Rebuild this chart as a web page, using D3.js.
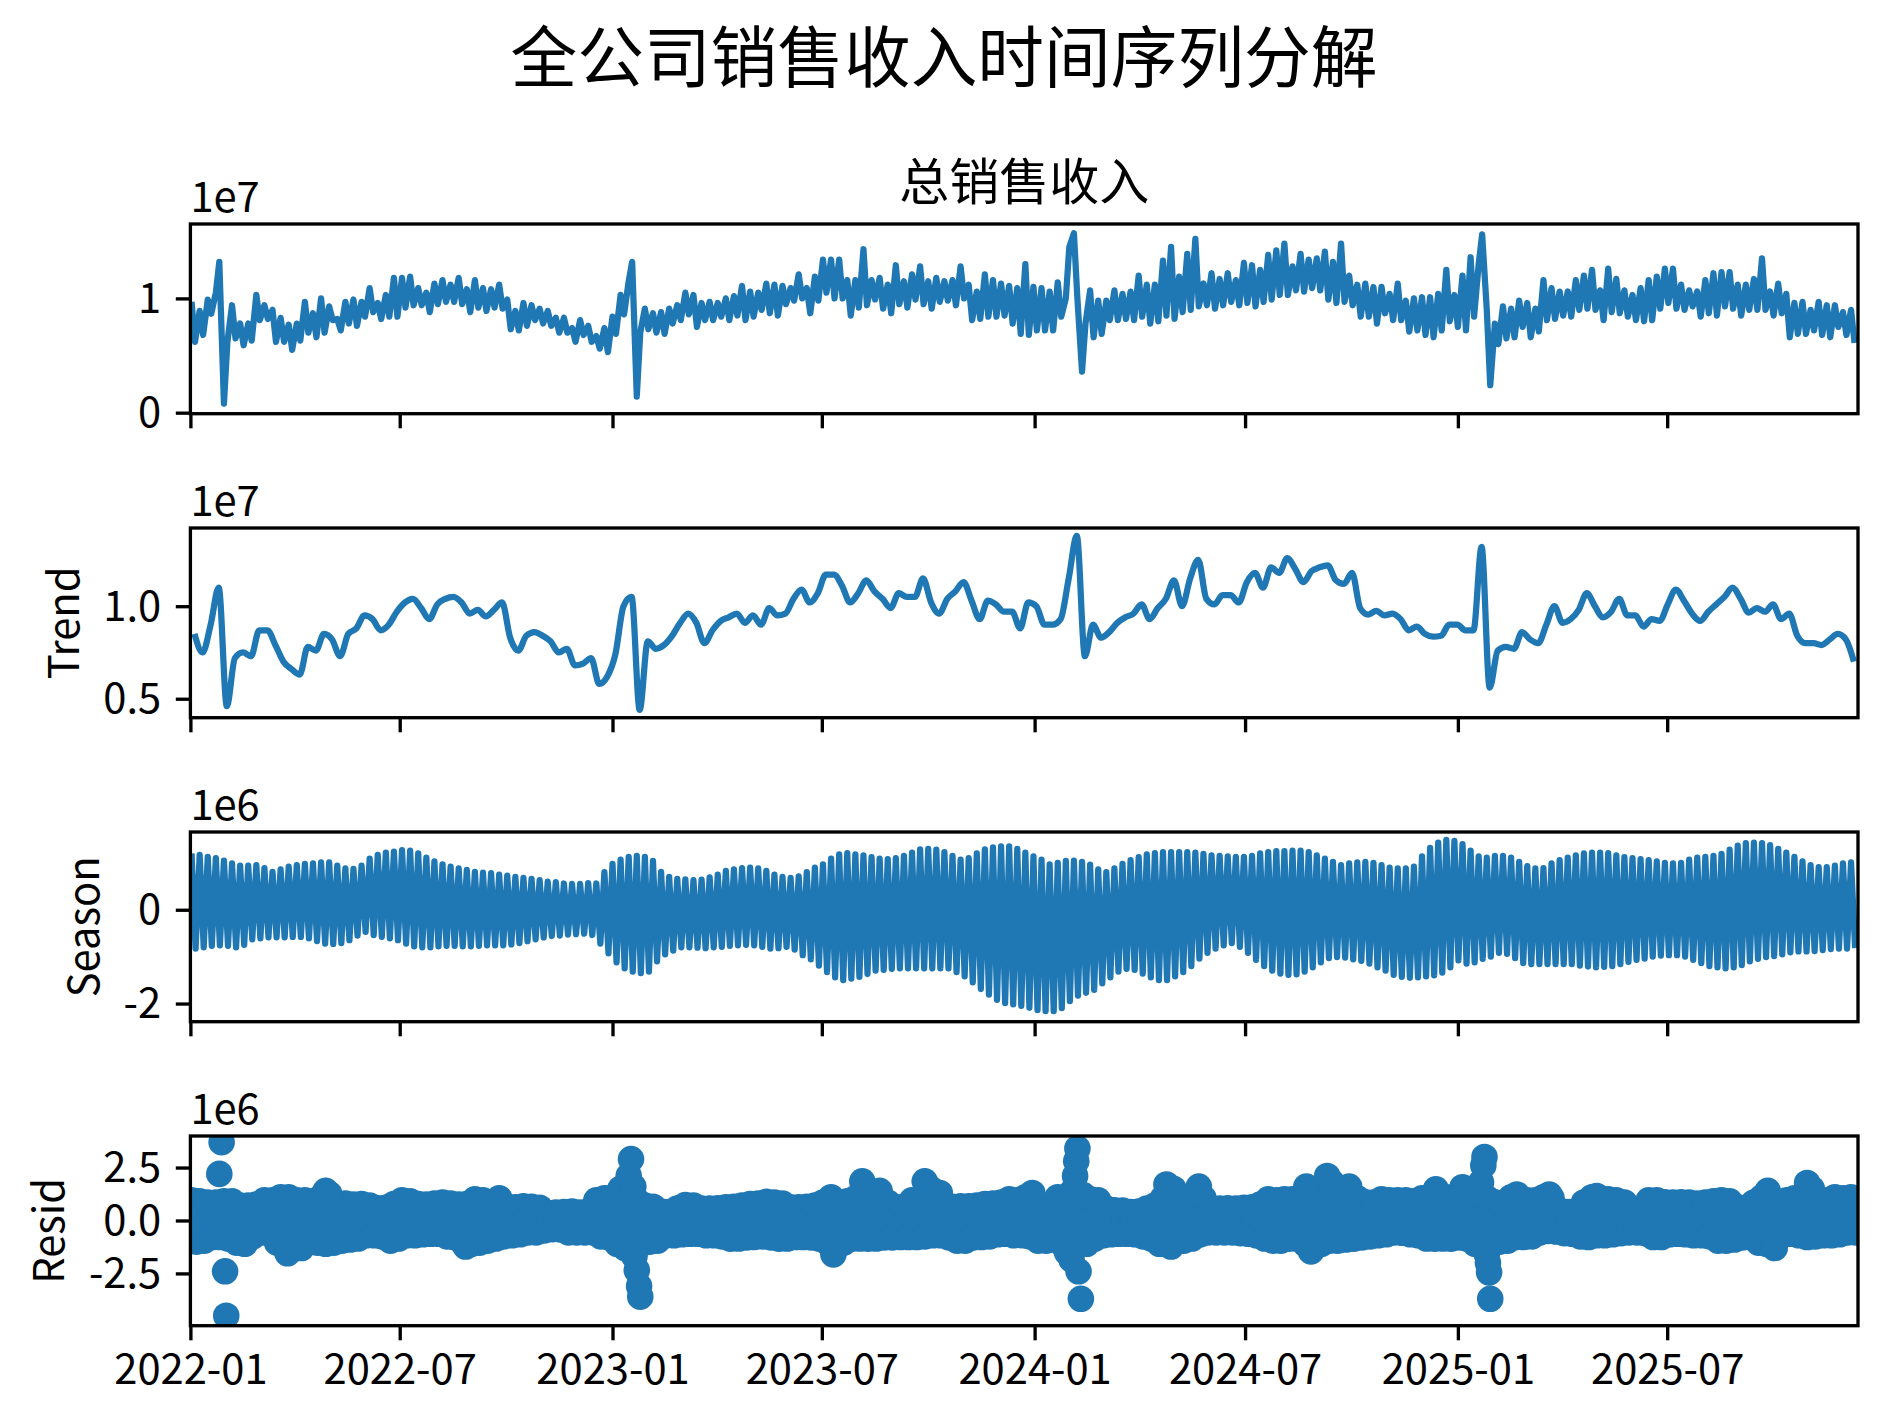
<!DOCTYPE html>
<html><head><meta charset="utf-8">
<script src="https://cdn.jsdelivr.net/npm/d3@7"></script>
<style>body{margin:0;background:#fff}svg{display:block}</style>
</head><body>
<svg id="c" width="1888" height="1425"></svg>
<script>
// ---------------- DATA ----------------
const figTitle = "全公司销售收入时间序列分解";
const obsTitle = "总销售收入";
const panelNames = ["", "Trend", "Season", "Resid"];
const offsetTexts = ["1e7", "1e7", "1e6", "1e6"];
const startDay = "2022-01-01";
const endDay = "2025-12-13";
const xTickLabels = ["2022-01","2022-07","2023-01","2023-07","2024-01","2024-07","2025-01","2025-07"];
const obsTicks = [0, 1], obsTickLabels = ["0", "1"];
const trendTicks = [0.5, 1.0], trendTickLabels = ["0.5", "1.0"];
const seasonTicks = [-2, 0], seasonTickLabels = ["-2", "0"];
const residTicks = [-2.5, 0, 2.5], residTickLabels = ["-2.5", "0.0", "2.5"];

// observed (x1e7): two readings per week (early-week / mid-week), week w starts startDay + 7w
const obsA = [0.97,0.89,0.99,1.05,0.08,0.94,0.78,0.78,1.03,0.94,
0.90,0.83,0.77,0.78,0.97,0.87,1.0,0.93,0.82,0.97,
0.99,0.97,1.09,0.96,1.03,1.18,1.18,1.19,1.09,1.05,
1.13,1.16,1.12,1.18,1.08,1.16,1.09,1.08,1.12,0.99,
0.89,0.96,0.94,0.91,0.89,0.83,0.83,0.74,0.81,0.76,
0.67,0.74,0.84,1.03,1.15,0.14,0.91,0.87,0.88,0.91,
0.94,1.05,1.03,0.96,0.97,0.96,1.0,1.02,1.11,1.06,
1.05,1.13,1.12,1.11,1.09,1.21,1.09,1.19,1.34,1.34,
1.34,1.16,1.16,1.43,1.16,1.18,1.12,1.29,1.15,1.21,
1.28,1.15,1.18,1.15,1.16,1.28,1.12,1.06,1.21,1.16,
1.13,1.11,1.09,1.30,1.10,1.09,1.06,1.14,1.0,1.57,
0.36,1.07,0.98,0.98,1.07,1.04,1.06,1.20,1.12,1.12,
1.33,1.45,1.19,1.39,1.52,1.13,1.22,1.17,1.22,1.16,
1.31,1.29,1.25,1.38,1.42,1.48,1.28,1.39,1.34,1.35,
1.41,1.32,1.48,1.20,1.12,1.13,1.10,1.10,1.04,1.13,
0.98,1.0,1.01,1.01,1.04,1.25,1.03,1.20,1.36,1.30,
0.90,0.78,0.93,0.91,0.98,0.96,0.91,1.16,1.09,1.06,
1.06,1.16,1.20,1.25,1.07,1.26,1.17,1.07,1.03,1.09,
1.16,1.19,1.26,1.26,1.12,1.07,1.06,1.16,1.22,1.23,
1.23,1.12,1.12,1.17,1.35,1.06,1.13,1.04,0.96,0.97,
0.90,0.97,0.94,0.94,0.88,0.90];
const obsB = [0.62,0.68,0.865,1.32,0.62,0.65,0.59,0.63,0.81,0.82,
0.62,0.62,0.55,0.63,0.70,0.66,0.70,0.81,0.72,0.78,
0.76,0.84,0.88,0.82,0.84,0.84,0.92,0.94,0.94,0.88,
0.95,0.97,0.97,0.95,0.88,0.92,0.89,0.92,0.91,0.73,
0.72,0.76,0.81,0.78,0.76,0.70,0.70,0.62,0.68,0.62,
0.56,0.53,0.69,0.86,1.32,0.70,0.73,0.70,0.69,0.78,
0.81,0.86,0.75,0.81,0.81,0.84,0.81,0.85,0.81,0.84,
0.90,0.87,0.85,0.95,0.98,1.0,0.87,0.98,1.05,1.0,
1.0,0.85,0.92,0.94,0.99,0.91,0.87,0.95,0.92,0.99,
0.95,0.91,0.97,0.98,0.94,1.0,0.81,0.82,0.84,0.84,
0.85,0.78,0.69,0.68,0.72,0.72,0.72,0.84,1.45,1.0,
0.78,0.66,0.69,0.81,0.81,0.82,0.81,0.84,0.78,0.80,
0.85,0.82,0.88,0.90,0.93,0.94,0.91,0.94,0.97,0.94,
0.96,0.93,0.97,0.99,1.03,1.03,1.07,1.06,1.09,1.07,
0.99,0.96,0.97,0.94,0.84,0.84,0.78,0.87,0.81,0.81,
0.71,0.72,0.68,0.66,0.72,0.80,0.75,0.72,0.84,1.56,
0.24,0.60,0.65,0.66,0.75,0.66,0.71,0.81,0.82,0.85,
0.84,0.90,0.91,0.90,0.81,0.88,0.87,0.84,0.81,0.80,
0.81,0.91,0.96,0.91,0.90,0.93,0.84,0.87,0.85,0.93,
0.91,0.85,0.90,0.90,0.90,0.85,0.87,0.66,0.69,0.69,
0.72,0.68,0.66,0.75,0.68,0.61];

// trend (x1e7), one value per week (mid-week)
const trend = [0.85,0.75,0.90,1.10,0.46,0.72,0.75,0.73,0.87,0.87,
0.79,0.70,0.66,0.63,0.78,0.76,0.85,0.82,0.73,0.85,
0.88,0.95,0.93,0.87,0.90,0.97,1.02,1.04,0.99,0.93,
1.01,1.04,1.05,1.02,0.96,0.98,0.945,0.98,1.02,0.83,
0.76,0.84,0.86,0.84,0.81,0.75,0.77,0.68,0.69,0.72,
0.58,0.62,0.74,1.0,1.05,0.44,0.81,0.77,0.79,0.84,
0.91,0.96,0.91,0.80,0.87,0.92,0.94,0.96,0.91,0.95,
0.90,0.99,0.95,0.96,1.04,1.09,1.02,1.07,1.17,1.17,
1.11,1.02,1.07,1.14,1.08,1.04,0.99,1.07,1.05,1.05,
1.15,1.02,0.96,1.04,1.08,1.13,1.03,0.93,1.03,1.01,
0.97,0.97,0.88,1.02,1.0,0.90,0.90,0.93,1.15,1.38,
0.73,0.90,0.83,0.86,0.91,0.94,0.96,1.01,0.93,0.99,
1.04,1.14,1.0,1.15,1.25,1.04,1.01,1.06,1.06,1.02,
1.13,1.18,1.10,1.21,1.18,1.26,1.20,1.13,1.19,1.21,
1.22,1.14,1.12,1.18,0.99,0.955,0.975,0.95,0.96,0.93,
0.87,0.89,0.85,0.835,0.84,0.90,0.90,0.87,0.87,1.32,
0.56,0.76,0.78,0.77,0.86,0.82,0.80,0.90,1.0,0.91,
0.93,0.98,1.07,1.0,0.94,0.97,1.04,0.95,0.95,0.89,
0.93,0.92,1.01,1.09,1.03,0.96,0.92,0.97,1.01,1.05,
1.10,1.04,0.965,0.99,0.97,1.01,0.93,0.96,0.84,0.80,
0.80,0.79,0.82,0.85,0.82,0.70];

// seasonal (x1e6): weekly peak day and trough day
const seasHi = [1.20,1.17,1.13,1.10,1.05,0.99,0.94,0.94,0.95,0.89,
0.81,0.86,0.92,0.95,0.98,0.99,1.01,1.01,0.94,0.88,
0.87,0.94,1.09,1.17,1.22,1.24,1.27,1.26,1.20,1.11,
1.03,0.97,0.92,0.88,0.85,0.81,0.79,0.78,0.75,0.73,
0.70,0.68,0.66,0.63,0.60,0.59,0.56,0.55,0.55,0.57,
0.56,0.80,0.98,1.07,1.13,1.15,1.13,1.04,0.81,0.70,
0.66,0.65,0.63,0.64,0.69,0.75,0.83,0.86,0.89,0.90,
0.88,0.83,0.75,0.70,0.68,0.71,0.80,0.90,0.97,1.09,
1.18,1.21,1.18,1.16,1.12,1.09,1.08,1.10,1.15,1.22,
1.29,1.30,1.28,1.23,1.15,1.07,1.10,1.20,1.29,1.33,
1.35,1.35,1.30,1.22,1.14,1.07,0.97,1.00,1.04,1.05,
1.02,0.96,0.86,0.80,0.88,0.98,1.06,1.12,1.18,1.21,
1.23,1.23,1.23,1.23,1.22,1.19,1.16,1.15,1.14,1.13,
1.13,1.15,1.20,1.23,1.25,1.25,1.26,1.26,1.23,1.16,
1.09,1.02,0.95,0.99,1.01,1.02,1.00,0.95,0.90,0.88,
0.88,0.92,1.14,1.32,1.43,1.49,1.47,1.40,1.26,1.14,
1.11,1.15,1.15,1.11,1.02,0.93,0.88,0.89,0.99,1.06,
1.11,1.16,1.20,1.22,1.22,1.21,1.16,1.12,1.10,1.08,
1.06,1.03,1.00,0.99,1.00,1.07,1.11,1.13,1.15,1.19,
1.28,1.37,1.42,1.43,1.42,1.38,1.30,1.22,1.13,1.03,
0.95,0.91,0.91,0.94,0.99,1.01];
const seasLo = [-0.83,-0.80,-0.77,-0.76,-0.77,-0.80,-0.75,-0.63,-0.61,-0.59,
-0.59,-0.59,-0.58,-0.58,-0.61,-0.67,-0.72,-0.73,-0.71,-0.65,
-0.55,-0.47,-0.54,-0.58,-0.61,-0.65,-0.72,-0.78,-0.80,-0.80,
-0.78,-0.77,-0.77,-0.78,-0.78,-0.77,-0.76,-0.76,-0.76,-0.74,
-0.71,-0.67,-0.63,-0.59,-0.56,-0.55,-0.53,-0.52,-0.51,-0.54,
-0.72,-0.93,-1.12,-1.25,-1.32,-1.35,-1.32,-1.10,-0.95,-0.87,
-0.80,-0.80,-0.81,-0.82,-0.80,-0.79,-0.77,-0.76,-0.75,-0.76,
-0.79,-0.83,-0.82,-0.79,-0.85,-0.97,-1.06,-1.19,-1.33,-1.44,
-1.50,-1.47,-1.43,-1.37,-1.30,-1.28,-1.26,-1.25,-1.25,-1.25,
-1.25,-1.25,-1.25,-1.25,-1.33,-1.42,-1.55,-1.69,-1.81,-1.92,
-1.99,-2.02,-2.05,-2.09,-2.14,-2.16,-2.16,-2.10,-1.95,-1.83,
-1.77,-1.71,-1.57,-1.44,-1.32,-1.26,-1.28,-1.36,-1.44,-1.50,
-1.50,-1.42,-1.33,-1.20,-1.04,-0.92,-0.83,-0.76,-0.71,-0.79,
-0.92,-1.07,-1.20,-1.30,-1.36,-1.39,-1.38,-1.32,-1.23,-1.12,
-1.03,-1.01,-1.02,-1.06,-1.09,-1.15,-1.23,-1.30,-1.39,-1.43,
-1.45,-1.44,-1.42,-1.40,-1.34,-1.23,-1.08,-1.15,-1.12,-1.05,
-1.00,-0.92,-0.94,-1.03,-1.14,-1.16,-1.16,-1.16,-1.16,-1.16,
-1.16,-1.19,-1.21,-1.23,-1.22,-1.20,-1.16,-1.11,-1.07,-1.04,
-1.00,-0.98,-0.97,-0.97,-1.00,-1.07,-1.14,-1.20,-1.23,-1.25,
-1.23,-1.18,-1.10,-1.05,-1.01,-0.99,-0.95,-0.91,-0.89,-0.89,
-0.88,-0.86,-0.84,-0.83,-0.83,-0.82];

// residual (x1e6): weekly high, middle and low readings
const residHi = [0.95,0.9,0.85,0.85,0.9,0.9,0.7,0.7,0.75,0.95,
0.95,1.1,1.1,0.95,0.95,0.9,1.1,1.05,0.7,0.8,
0.75,0.78,0.7,0.58,0.6,0.78,0.95,0.9,0.78,0.75,
0.8,0.85,0.8,0.75,0.78,1.0,0.95,0.65,1.05,0.65,
0.62,0.67,0.65,0.6,0.34,0.38,0.4,0.42,0.38,0.42,
0.95,1.05,1.1,1.1,1.1,0.95,0.7,0.65,0.42,0.4,
0.56,0.73,0.7,0.56,0.56,0.58,0.62,0.65,0.7,0.78,
0.8,0.88,0.85,0.8,0.62,0.62,0.65,0.7,0.85,1.1,
0.85,0.9,1.05,0.85,1.05,0.95,0.85,0.62,0.65,0.95,
0.9,0.85,0.75,0.62,0.65,0.67,0.67,0.7,0.78,0.8,
0.85,1.0,0.95,1.1,1.05,0.62,0.65,1.1,1.1,1.1,
1.1,1.0,0.95,0.56,0.48,0.47,0.4,0.42,0.56,0.7,
1.05,1.1,1.05,0.95,1.1,1.05,0.56,0.56,0.58,0.56,
0.6,0.62,0.75,1.0,0.95,1.0,1.0,1.05,1.1,1.1,
1.1,1.05,1.05,1.1,1.05,0.86,0.85,1.0,0.95,0.95,
0.95,0.9,1.05,1.1,1.05,1.1,1.1,1.1,1.05,1.1,
1.05,0.86,0.8,1.1,1.05,0.95,0.95,1.1,1.05,0.47,
0.4,0.42,0.85,1.1,1.05,1.0,0.95,0.85,0.48,0.52,
0.95,0.95,0.86,0.85,0.86,0.85,0.8,0.85,0.9,0.95,
0.9,0.62,0.6,0.85,1.1,1.1,0.85,0.95,1.05,1.1,
1.05,1.0,0.95,1.1,1.05,1.1];
const residMid = [0.1,-0.1,0.2,0.0,-0.2,0.1,0.0,-0.1,0.15,-0.05,
0.05,-0.15,0.1,0.2,-0.1,0.0,0.1,-0.2,0.05,0.1,
-0.05,0.15,-0.1,0.0,0.1,-0.15,0.2,0.05,-0.1,0.0,
0.1,-0.05,0.0,0.15,-0.2,0.1,-0.1,0.05,0.0,0.2,
-0.1,0.05,0.1,-0.05,0.0,0.05,-0.05,0.1,0.0,-0.1,
0.15,-0.2,0.2,-0.1,0.1,0.0,0.05,-0.15,0.1,0.0,
-0.05,0.1,0.0,-0.1,0.15,0.05,-0.05,0.2,-0.15,0.1,
0.0,-0.1,0.1,0.05,-0.2,0.15,0.0,-0.05,0.1,-0.1,
0.2,0.0,-0.15,0.1,0.05,-0.1,0.0,0.1,-0.05,0.15,
-0.1,0.05,0.2,-0.2,0.0,0.1,-0.1,0.05,0.15,-0.05,
0.1,0.0,-0.1,0.2,-0.15,0.05,0.1,-0.05,0.0,0.1,
-0.2,0.15,0.0,-0.1,0.1,0.05,-0.05,0.0,0.1,-0.15,
0.05,0.2,-0.1,0.0,0.1,-0.2,0.15,-0.05,0.0,0.1,
-0.1,0.1,0.05,-0.15,0.2,0.0,-0.1,0.1,-0.05,0.05,
0.15,-0.05,0.0,0.1,-0.2,0.1,0.05,-0.1,0.2,0.0,
-0.15,0.1,-0.05,0.2,0.0,-0.1,0.15,0.05,-0.2,0.1,
0.0,0.05,-0.1,0.15,-0.05,0.1,0.0,-0.15,0.1,0.2,
-0.05,0.0,0.1,-0.2,0.15,-0.1,0.05,0.1,0.0,-0.05,
0.2,-0.1,0.0,0.05,-0.15,0.1,0.15,-0.05,0.0,0.1,
-0.1,0.05,0.2,-0.05,0.0,-0.2,0.1,0.15,-0.1,0.0,
0.05,-0.1,0.1,0.0,-0.05,0.15];
const residLo = [-1.0,-0.95,-0.78,-0.78,-0.85,-1.05,-1.1,-0.75,-0.56,-0.6,
-1.05,-1.1,-1.1,-0.95,-0.95,-1.05,-1.1,-1.05,-0.95,-0.9,
-0.85,-0.7,-0.7,-0.75,-0.95,-0.85,-0.7,-0.7,-0.65,-0.63,
-0.63,-0.75,-0.8,-1.05,-1.1,-1.05,-0.95,-0.85,-0.75,-0.7,
-0.65,-0.56,-0.56,-0.47,-0.41,-0.42,-0.56,-0.56,-0.56,-0.56,
-0.75,-0.8,-1.1,-1.1,-1.1,-1.1,-1.0,-0.95,-0.7,-0.7,
-0.65,-0.63,-0.63,-0.7,-0.7,-0.75,-0.86,-0.85,-0.8,-0.78,
-0.75,-0.8,-0.86,-0.85,-0.78,-0.78,-0.8,-0.85,-1.05,-1.1,
-1.05,-0.86,-0.85,-0.86,-0.85,-0.8,-0.8,-0.78,-0.78,-0.78,
-0.75,-0.7,-0.7,-0.8,-0.95,-0.95,-0.8,-0.78,-0.75,-0.65,
-0.63,-0.7,-0.7,-0.75,-0.95,-0.95,-0.9,-1.1,-1.1,-1.1,
-1.1,-0.85,-0.7,-0.65,-0.63,-0.63,-0.65,-0.75,-0.85,-1.1,
-1.1,-0.95,-0.95,-0.85,-0.65,-0.56,-0.56,-0.56,-0.56,-0.6,
-0.63,-0.7,-0.85,-0.95,-0.95,-0.86,-0.85,-1.1,-1.1,-1.1,
-0.95,-0.95,-0.9,-0.86,-0.8,-0.75,-0.7,-0.65,-0.56,-0.58,
-0.65,-0.7,-0.85,-0.86,-0.85,-0.86,-0.8,-0.85,-1.1,-1.1,
-1.1,-1.0,-0.95,-0.78,-0.78,-0.75,-0.56,-0.49,-0.52,-0.6,
-0.63,-0.75,-0.78,-0.7,-0.7,-0.65,-0.6,-0.56,-0.56,-0.6,
-0.78,-0.78,-0.65,-0.63,-0.65,-0.7,-0.7,-0.75,-0.95,-0.95,
-0.9,-0.8,-0.78,-1.05,-1.1,-1.1,-0.65,-0.63,-0.7,-0.78,
-0.75,-0.7,-0.7,-0.65,-0.56,-0.56];
// residual outliers: day offset from startDay, value (x1e6)
const residOutDay = [25,27,30,31, 84,96,117,120,238,
372,375,376,379,381,383,384,386,388,389,
556,581,585,596,635,640,648,728,
758,762,763,765,766,767,768,770,772,
844,848,850,869,872,965,969,983,987,1002,1077,1100,1106,
1112,1116,1118,1119,1121,1122,1123,1124,
1147,1175,1216,1364,1370,1398,1402];
const residOutVal = [2.2,3.7,-2.4,-4.5, -1.55,-1.3,1.4,1.25,-1.23,
1.5,1.3,-1.3,2.1,2.9,1.6,-1.7,-2.35,-3.1,-3.6,
-1.6,1.85,1.4,1.4,1.85,1.5,1.3,1.3,
-1.5,-1.85,1.4,2.1,2.8,3.4,-2.4,-3.7,1.2,
1.7,-1.23,1.5,1.3,1.6,1.6,-1.46,2.1,1.8,1.6,1.47,1.57,1.4,
1.3,1.8,2.6,3.0,-1.6,-2.0,-2.45,-3.7,
1.23,1.23,1.15,1.4,-1.3,1.77,1.5];

// ---------------- LAYOUT / DRAW ----------------
const FONT = '"Noto Sans CJK SC","Noto Sans",sans-serif';
const svg = d3.select("#c");
const L = 190.4, R = 1858, PH = 189.7;
const tops = [224, 528, 832, 1136];
const blue = "#1f77b4";
const LW = 6.25, TICK = 14.6, PAD = 14.6, SPW = 3.33, FS = 41.7;

const t0 = d3.utcParse("%Y-%m-%d")(startDay), t1 = d3.utcParse("%Y-%m-%d")(endDay);
const x = d3.scaleUtc().domain([t0, t1]).range([L, R]);
const at = d => new Date(t0.getTime() + d * 864e5);
const xTickDates = xTickLabels.map(d3.utcParse("%Y-%m"));

const panels = [
  {domain: [-0.009, 1.651], ticks: obsTicks, labels: obsTickLabels},
  {domain: [0.3975, 1.4225], ticks: trendTicks, labels: trendTickLabels},
  {domain: [-2.387, 1.658], ticks: seasonTicks, labels: seasonTickLabels},
  {domain: [-4.97, 3.99], ticks: residTicks, labels: residTickLabels}
];

svg.append("rect").attr("width", 1888).attr("height", 1425).attr("fill", "#fff");

svg.append("text").attr("x", 944).attr("y", 82).attr("text-anchor", "middle")
  .attr("font-family", FONT).attr("font-size", 66.7).attr("fill", "#000").text(figTitle);

panels.forEach((p, i) => {
  const top = tops[i];
  const y = d3.scaleLinear().domain(p.domain).range([top + PH, top]);
  const clip = svg.append("clipPath").attr("id", "clip" + i);
  clip.append("rect").attr("x", L).attr("y", top).attr("width", R - L).attr("height", PH);
  const g = svg.append("g").attr("clip-path", `url(#clip${i})`);

  if (i === 0) {
    const pts = [];
    obsA.forEach((v, w) => { pts.push([at(7 * w + 1), v]); pts.push([at(7 * w + 4), obsB[w]]); });
    g.append("path").datum(pts).attr("fill", "none").attr("stroke", blue).attr("stroke-width", LW)
      .attr("stroke-linejoin", "round")
      .attr("d", d3.line().x(d => x(d[0])).y(d => y(d[1])));
  } else if (i === 1) {
    g.append("path").datum(trend).attr("fill", "none").attr("stroke", blue).attr("stroke-width", LW)
      .attr("stroke-linejoin", "round")
      .attr("d", d3.line().curve(d3.curveMonotoneX).x((d, w) => x(at(7 * w + 3.5))).y(d => y(d)));
  } else if (i === 2) {
    const pts = [];
    seasHi.forEach((v, w) => { pts.push([at(7 * w + 1), v]); pts.push([at(7 * w + 4.5), seasLo[w]]); });
    g.append("path").datum(pts).attr("fill", "none").attr("stroke", blue).attr("stroke-width", LW)
      .attr("stroke-linejoin", "round")
      .attr("d", d3.line().x(d => x(d[0])).y(d => y(d[1])));
  } else {
    g.append("line").attr("x1", L).attr("x2", R).attr("y1", y(0)).attr("y2", y(0))
      .attr("stroke", "#000").attr("stroke-width", LW);
    const pts = [];
    residHi.forEach((v, w) => {
      pts.push([at(7 * w + 1), v]);
      pts.push([at(7 * w + 3), residMid[w]]);
      pts.push([at(7 * w + 5), residLo[w]]);
    });
    residOutDay.forEach((d, k) => pts.push([at(d), residOutVal[k]]));
    g.selectAll("circle").data(pts).join("circle")
      .attr("cx", d => x(d[0])).attr("cy", d => y(d[1])).attr("r", 13.3).attr("fill", blue);
  }

  // x axis
  const xa = svg.append("g").attr("transform", `translate(0,${top + PH})`)
    .call(d3.axisBottom(x).tickValues(xTickDates).tickSize(TICK).tickSizeOuter(0).tickPadding(PAD)
      .tickFormat((d, k) => i === 3 ? xTickLabels[k] : ""));
  // y axis
  const ya = svg.append("g").attr("transform", `translate(${L},0)`)
    .call(d3.axisLeft(y).tickValues(p.ticks).tickSize(TICK).tickSizeOuter(0).tickPadding(PAD)
      .tickFormat((d, k) => p.labels[k]));
  [xa, ya].forEach(a => {
    a.attr("font-family", FONT).attr("font-size", FS);
    a.select(".domain").remove();
    a.selectAll(".tick line").attr("stroke", "#000").attr("stroke-width", SPW);
    a.selectAll(".tick text").attr("fill", "#000");
  });
  ya.selectAll(".tick text").attr("dy", "0.34em");

  // spines
  svg.append("rect").attr("x", L).attr("y", top).attr("width", R - L).attr("height", PH)
    .attr("fill", "none").attr("stroke", "#000").attr("stroke-width", SPW);

  // offset text
  svg.append("text").attr("x", L).attr("y", top - 12.3).attr("font-family", FONT)
    .attr("font-size", FS).attr("fill", "#000").text(offsetTexts[i]);

  // y label
  if (panelNames[i]) {
    let minX = Infinity;
    ya.selectAll(".tick text").each(function () {
      const b = this.getBBox();
      minX = Math.min(minX, L + b.x);
    });
    const lx = minX - 16.7 - 8;
    svg.append("text").attr("transform", `translate(${lx},${top + PH / 2}) rotate(-90)`)
      .attr("text-anchor", "middle").attr("font-family", FONT).attr("font-size", FS)
      .attr("fill", "#000").text(panelNames[i]);
  }
  if (i === 0) {
    svg.append("text").attr("x", (L + R) / 2).attr("y", 200).attr("text-anchor", "middle")
      .attr("font-family", FONT).attr("font-size", 50).attr("fill", "#000").text(obsTitle);
  }
});
</script>
</body></html>
